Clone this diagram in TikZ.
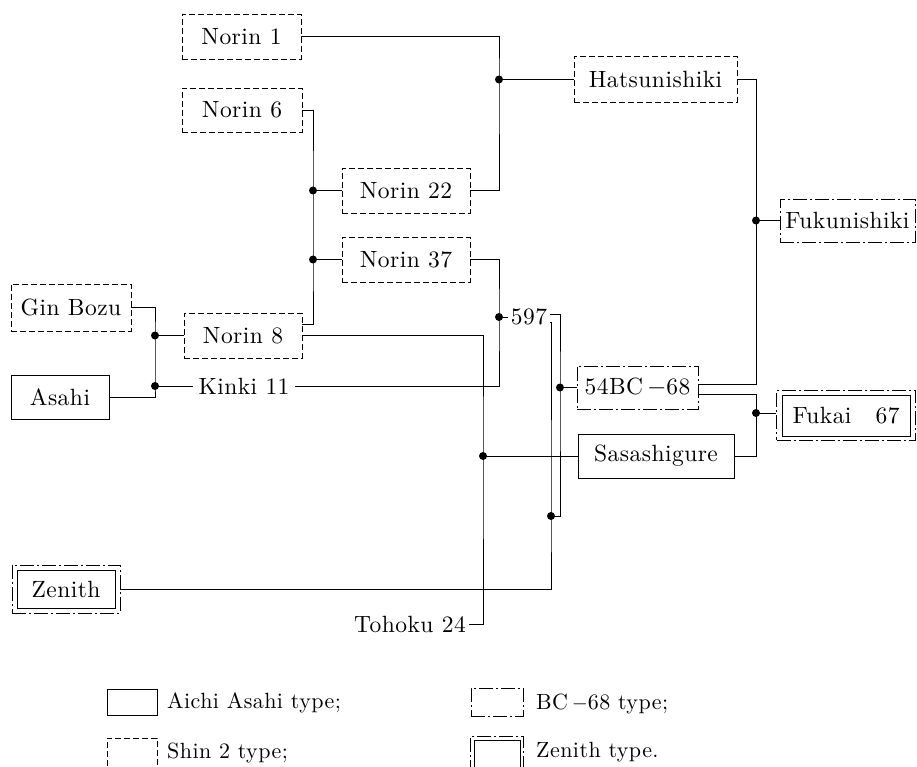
\documentclass[tikz,border=0pt]{standalone}
\usepackage{fontspec}
\newfontfamily\spaced{lmroman10-regular.otf}[LetterSpace=2]
\usetikzlibrary{fit}
\begin{document}
\begin{tikzpicture}[x=1pt,y=-1pt,
  every node/.style={font=\spaced\fontsize{23.5}{28}\selectfont, inner sep=0pt},
  aichi/.style={draw, line width=0.9pt, solid},
  shin/.style={draw, line width=0.9pt, dash pattern=on 6pt off 3pt},
  bctype/.style={draw, line width=0.9pt, dash pattern=on 14pt off 3pt on 2pt off 3pt},
  link/.style={line width=0.9pt},
  legtext/.style={font=\spaced\fontsize{22}{26}\selectfont, anchor=base west},
  txt/.style={inner xsep=3pt}]
\clip (0,0) rectangle (917,767);
% boxes
\node[shin, minimum width=119pt, minimum height=45pt] (n1) at (241.5,36.5) {Norin 1};
\node[shin, minimum width=120pt, minimum height=44pt] (n6) at (242,110) {Norin 6};
\node[shin, minimum width=128pt, minimum height=45pt] (n22) at (406,190.5) {Norin 22};
\node[shin, minimum width=128pt, minimum height=45pt] (n37) at (406,259.5) {Norin 37};
\node[shin, minimum width=163pt, minimum height=46pt] (hatsu) at (655.5,79.5) {Hatsunishiki};
\node[bctype, minimum width=135pt, minimum height=43pt] (fuku) at (847.5,220.5) {Fukunishiki};
\node[shin, minimum width=120pt, minimum height=47pt] (gin) at (71,307.5) {Gin Bozu};
\node[aichi, minimum width=98pt, minimum height=44pt] (asahi) at (60,397) {Asahi};
\node[shin, minimum width=118pt, minimum height=45pt] (n8) at (243,335.5) {Norin 8};
\node[bctype, minimum width=121pt, minimum height=43pt] (bc) at (637.5,387.5) {54BC\,$-$68};
\node[aichi, minimum width=128pt, minimum height=41pt] (fukai) at (846,415.5) {Fukai\hspace{24pt}67};
\node[bctype, fit=(fukai), inner xsep=5pt, inner ysep=4pt] (fukaiout) {};
\node[aichi, minimum width=156pt, minimum height=44pt] (sasa) at (656,456) {Sasashigure};
\node[aichi, minimum width=98pt, minimum height=38pt] (zen) at (66,589) {Zenith};
\node[bctype, fit=(zen), inner xsep=4.5pt, inner ysep=4.5pt] (zenout) {};
% plain labels
\node[txt, inner xsep=5pt] (kinki) at (244,386) {Kinki 11};
\node[txt] (s597) at (529,317) {597};
\node[txt] (tohoku) at (410,624) {Tohoku 24};
% junctions
\coordinate (j1) at (499,79.5);
\coordinate (j2) at (313,190.5);
\coordinate (j3) at (313,259.5);
\coordinate (j4) at (499,317);
\coordinate (j5) at (155,335.5);
\coordinate (j6) at (155,386);
\coordinate (j7) at (483,456);
\coordinate (j8) at (551,516);
\coordinate (j9) at (560,387.5);
\coordinate (j10) at (756,220.5);
\coordinate (j11) at (756,413);
\coordinate (n8ne) at ([yshift=11pt]n8.east);
% connectors
\draw[link] (n1.east) -| (j1) |- (n22.east);
\draw[link] (j1) -- (hatsu.west);
\draw[link] (n6.east) -| (j2) -- (j3) |- (n8ne);
\draw[link] (j2) -- (n22.west);
\draw[link] (j3) -- (n37.west);
\draw[link] (n37.east) -| (j4) |- (kinki.east);
\draw[link] (j4) -- (s597.west);
\draw[link] (gin.east) -| (j5) -- (j6) |- (asahi.east);
\draw[link] (j5) -- (n8.west);
\draw[link] (j6) -- (kinki.west);
\draw[link] (n8.east) -| (j7) |- (tohoku.east);
\draw[link] (j7) -- (sasa.west);
\draw[link] ([yshift=3pt]s597.east) -| (j9) |- (j8);
\draw[link] ([yshift=-5pt]s597.east) -| (j8) |- (zenout.east);
\draw[link] (j9) -- (bc.west);
\draw[link] ([yshift=3.5pt]bc.east) -| (j10) |- (hatsu.east);
\draw[link] (j10) -- (fuku.west);
\draw[link] ([yshift=-6.5pt]bc.east) -| (j11) |- (sasa.east);
\draw[link] (j11) -- (j11 -| fukaiout.west);
\foreach \j in {j1,j2,j3,j4,j5,j6,j7,j8,j9,j10,j11} \fill (\j) circle (4pt);
% legend
\node[aichi, minimum width=50pt, minimum height=26pt] (lg1) at (132,702) {};
\node[legtext] (lt1) at (167,708) {Aichi Asahi type;};
\node[bctype, minimum width=52pt, minimum height=28pt] (lg2) at (497,702) {};
\node[legtext] (lt2) at (536,709) {BC\,$-$68 type;};
\node[shin, minimum width=50pt, minimum height=40pt] (lg3) at (132,758) {};
\node[legtext] (lt3) at (167,758) {Shin 2 type;};
\node[aichi, minimum width=46pt, minimum height=40pt] (lg4) at (497,760) {};
\node[bctype, fit=(lg4), inner sep=3pt] (lg4o) {};
\node[legtext] (lt4) at (536,757) {Zenith type.};
\end{tikzpicture}
\end{document}
